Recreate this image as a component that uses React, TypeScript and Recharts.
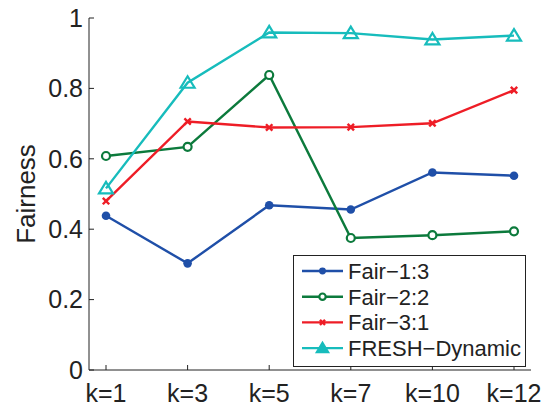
import React from 'react'
import { LineChart, Line, XAxis, YAxis, Legend } from 'recharts'

const categories = ['k=1', 'k=3', 'k=5', 'k=7', 'k=10', 'k=12']
const fair13 = [0.438, 0.303, 0.468, 0.456, 0.561, 0.552]
const fair22 = [0.608, 0.634, 0.838, 0.375, 0.383, 0.394]
const fair31 = [0.48, 0.706, 0.689, 0.69, 0.701, 0.795]
const freshDynamic = [0.516, 0.816, 0.959, 0.957, 0.939, 0.95]
const yTicks = [0, 0.2, 0.4, 0.6, 0.8, 1]

const FONT = '"Liberation Sans", Arial, Helvetica, sans-serif'
const BLUE = '#1f4fa8'
const GREEN = '#0c7a3c'
const RED = '#ee1d26'
const CYAN = '#17bcbc'

const data = categories.map((k, i) => ({
  k,
  'Fair-1:3': fair13[i],
  'Fair-2:2': fair22[i],
  'Fair-3:1': fair31[i],
  'FRESH-Dynamic': freshDynamic[i],
}))

type Marker = 'dot' | 'circle' | 'cross' | 'triangle'

const drawMarker = (kind: Marker, color: string, cx: number, cy: number, scale = 1) => {
  if (kind === 'dot') return <circle cx={cx} cy={cy} r={4.3 * scale} fill={color} stroke="none" />
  if (kind === 'circle')
    return <circle cx={cx} cy={cy} r={4 * scale} fill="#fff" stroke={color} strokeWidth={2.2} />
  if (kind === 'cross') {
    const s = 3.2 * scale
    return (
      <g stroke={color} strokeWidth={2.4}>
        <line x1={cx - s} y1={cy - s} x2={cx + s} y2={cy + s} />
        <line x1={cx - s} y1={cy + s} x2={cx + s} y2={cy - s} />
      </g>
    )
  }
  return (
    <polygon
      points={`${cx},${cy - 6.5 * scale} ${cx - 7 * scale},${cy + 5 * scale} ${cx + 7 * scale},${cy + 5 * scale}`}
      fill={scale < 1 ? color : 'none'}
      stroke={color}
      strokeWidth={2.2}
      strokeLinejoin="miter"
    />
  )
}

const makeDot = (kind: Marker, color: string) => (props: any) => {
  const { cx, cy, index } = props
  if (cx == null || cy == null) return <g key={index} />
  return <g key={index}>{drawMarker(kind, color, cx, cy)}</g>
}

const series: { key: string; color: string; marker: Marker }[] = [
  { key: 'Fair-1:3', color: BLUE, marker: 'dot' },
  { key: 'Fair-2:2', color: GREEN, marker: 'circle' },
  { key: 'Fair-3:1', color: RED, marker: 'cross' },
  { key: 'FRESH-Dynamic', color: CYAN, marker: 'triangle' },
]

const LegendBox = () => (
  <svg width={233} height={112} style={{ display: 'block' }}>
    <rect x={0.5} y={0.5} width={232} height={111} fill="#fff" stroke="#222" strokeWidth={1} />
    {series.map((s, i) => {
      const y = 16 + i * 25.7
      return (
        <g key={s.key}>
          <line x1={9} y1={y} x2={50} y2={y} stroke={s.color} strokeWidth={2.4} />
          {drawMarker(s.marker, s.color, 29.5, y, 0.8)}
          <text x={55} y={y + 8} fontSize={22} fill="#222" fontFamily={FONT}>
            {s.key.replace('-', '\u2212')}
          </text>
        </g>
      )
    })}
  </svg>
)

const AxisTitle = (props: any) => {
  const vb = props.viewBox || {}
  const x = 35
  const y = (vb.y ?? 18) + (vb.height ?? 352) / 2
  return (
    <text x={x} y={y} transform={`rotate(-90, ${x}, ${y})`} textAnchor="middle" fontSize={26} fill="#222" fontFamily={FONT}>
      Fairness
    </text>
  )
}

const tickStyle = { fill: '#222', fontSize: 25, fontFamily: FONT }

export default function App() {
  return (
    <div style={{ position: 'absolute', left: 0, top: 0, width: 544, height: 407, background: '#fff' }}>
      <LineChart width={544} height={407} data={data} margin={{ top: 18, right: 13, left: 0, bottom: 0 }}>
        <XAxis
          dataKey="k"
          height={37}
          padding={{ left: 17, right: 17 }}
          tick={tickStyle}
          tickSize={-5}
          tickMargin={19}
          stroke="#222"
          interval={0}
        />
        <XAxis
          xAxisId="top"
          dataKey="k"
          orientation="top"
          height={0}
          padding={{ left: 17, right: 17 }}
          tick={false}
          tickSize={-5}
          stroke="#222"
          interval={0}
        />
        <YAxis
          width={89}
          domain={[0, 1]}
          ticks={yTicks}
          tick={tickStyle}
          tickSize={-5}
          tickMargin={11}
          stroke="#222"
          tickFormatter={(v: number) => String(v)}
          label={<AxisTitle />}
        />
        <YAxis
          yAxisId="right"
          orientation="right"
          width={0}
          domain={[0, 1]}
          ticks={yTicks}
          tick={false}
          tickSize={-5}
          stroke="#222"
        />
        <Legend
          layout="vertical"
          align="center"
          verticalAlign="middle"
          content={<LegendBox />}
          wrapperStyle={{ left: 293, top: 255, width: 233, height: 112 }}
        />
        {series.map(s => (
          <Line
            key={s.key}
            type="linear"
            dataKey={s.key}
            stroke={s.color}
            strokeWidth={2.4}
            dot={makeDot(s.marker, s.color)}
            activeDot={false}
            isAnimationActive={false}
          />
        ))}
      </LineChart>
    </div>
  )
}
